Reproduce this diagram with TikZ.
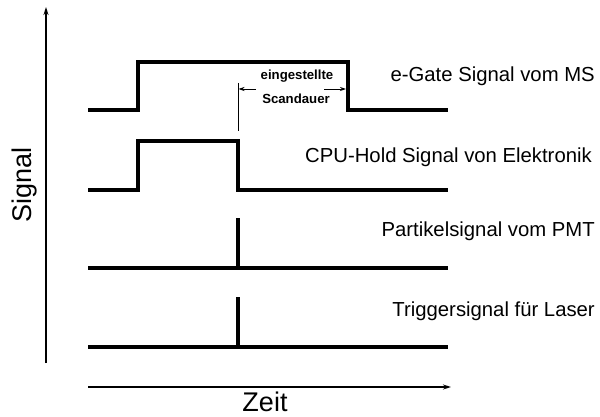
\documentclass[tikz,border=0pt]{standalone}
\usepackage{fontspec}
\setmainfont{Liberation Sans}
\usetikzlibrary{arrows.meta}
\begin{document}
\begin{tikzpicture}[x=1pt,y=-1pt,
  wave/.style={line width=4pt,line join=miter,line cap=butt},
  axis/.style={line width=1.3pt,-{Stealth[length=8pt,width=5pt]}},
  dim/.style={line width=0.9pt,-{Stealth[length=6pt,width=4pt]}},
  lbl/.style={font=\fontsize{20.3}{24}\selectfont,inner sep=0pt},
  big/.style={font=\fontsize{27}{32}\selectfont,inner sep=0pt},
  note/.style={font=\fontsize{13.2}{15}\selectfont\bfseries,inner sep=0pt}]
\useasboundingbox (0,0) rectangle (600,417);
% axes
\coordinate (yb) at (46,363);
\coordinate (yt) at (46,7);
\coordinate (xl) at (88,387);
\coordinate (xr) at (451,387);
\draw[axis] (yb) -- (yt);
\draw[axis] (xl) -- (xr);
\node[big,rotate=90] (sig) at (25,185) {Signal};
\node[big] (zeit) at (265,402) {Zeit};
% e-Gate
\coordinate (a0) at (88,110);
\coordinate (a1) at (138,110);
\coordinate (a2) at (138,62);
\coordinate (a3) at (348,62);
\coordinate (a4) at (348,110);
\coordinate (a5) at (448,110);
\draw[wave] (a0) -- (a1) -- (a2) -- (a3) -- (a4) -- (a5);
% CPU-Hold
\coordinate (b0) at (88,190);
\coordinate (b1) at (138,190);
\coordinate (b2) at (138,141);
\coordinate (b3) at (238,141);
\coordinate (b4) at (238,190);
\coordinate (b5) at (448,190);
\draw[wave] (b0) -- (b1) -- (b2) -- (b3) -- (b4) -- (b5);
% Partikel
\coordinate (c0) at (88,268);
\coordinate (c5) at (448,268);
\coordinate (cs) at (238,268);
\coordinate (ct) at (238,218);
\draw[wave] (c0) -- (c5);
\draw[wave] (cs) -- (ct);
% Trigger
\coordinate (d0) at (88,347);
\coordinate (d5) at (448,347);
\coordinate (ds) at (238,347);
\coordinate (dt) at (238,297);
\draw[wave] (d0) -- (d5);
\draw[wave] (ds) -- (dt);
% Scandauer annotation
\coordinate (v0) at (238,83);
\coordinate (v1) at (238,131);
\draw[line width=0.9pt] (v0) -- (v1);
\coordinate (la) at (256,89);
\coordinate (lt) at (238.5,89);
\coordinate (ra) at (324,89);
\coordinate (rt) at (346,89);
\draw[dim] (la) -- (lt);
\draw[dim] (ra) -- (rt);
\node[note] (n1) at (297,76) {eingestellte};
\node[note] (n2) at (296,99) {Scandauer};
% labels
\node[lbl,anchor=east] (l1) at (595,76) {e-Gate Signal vom MS};
\node[lbl,anchor=east] (l2) at (592,157) {CPU-Hold Signal von Elektronik};
\node[lbl,anchor=east] (l3) at (595,231) {Partikelsignal vom PMT};
\node[lbl,anchor=east] (l4) at (595,311) {Triggersignal für Laser};
\end{tikzpicture}
\end{document}
